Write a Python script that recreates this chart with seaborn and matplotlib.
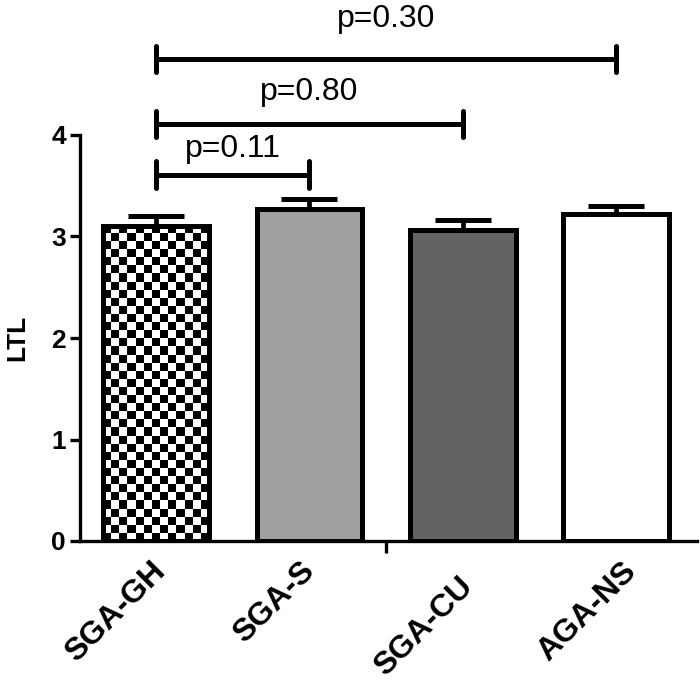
import numpy as np
import pandas as pd
import matplotlib
matplotlib.use("Agg")
import matplotlib.pyplot as plt
import matplotlib.transforms as mtransforms
import seaborn as sns

# ---- data ----
groups = ["SGA-GH", "SGA-S", "SGA-CU", "AGA-NS"]
ltl_mean = [3.10, 3.27, 3.06, 3.22]
ltl_sem = [0.10, 0.10, 0.10, 0.08]
bar_colors = ["white", "#a09fa4", "#636363", "white"]
comparisons = [("SGA-GH", "SGA-S"), ("SGA-GH", "SGA-CU"), ("SGA-GH", "AGA-NS")]
p_labels = ["p=0.11", "p=0.80", "p=0.30"]
bracket_y = [3.61, 4.11, 4.75]
p_text_y = [3.78, 4.34, 5.06]
y_ticks = [0, 1, 2, 3, 4]

sns.set_theme(style="white")
plt.rcParams["font.family"] = ["Liberation Sans", "DejaVu Sans"]
plt.rcParams["text.color"] = "black"
plt.rcParams["xtick.color"] = "black"
plt.rcParams["ytick.color"] = "black"
plt.rcParams["axes.labelcolor"] = "black"

df = pd.DataFrame({"group": groups, "LTL": ltl_mean})

fig = plt.figure(figsize=(7.0, 6.81), dpi=100)
ax = fig.add_axes([80 / 700, 140 / 681, 617 / 700, 541 / 681])

sns.barplot(data=df, x="group", y="LTL", hue="group", palette=bar_colors,
            order=groups, hue_order=groups, width=0.69, legend=False,
            edgecolor="black", linewidth=3.6, errorbar=None, ax=ax, zorder=3,
            dodge=False)

# upward-only error bars
xpos = np.arange(len(groups))
ax.errorbar(xpos, ltl_mean, yerr=[np.zeros(len(groups)), ltl_sem], fmt="none",
            ecolor="black", elinewidth=3.4, capsize=20, capthick=3.6, zorder=2)

ax.set_xlim(-0.495, 3.525)
ax.set_ylim(0, 541 / 101.5)

# checkerboard fill for first bar
fig.canvas.draw()
patch = ax.patches[0]
patch.set_facecolor("none")
bx0, by0 = patch.get_x(), patch.get_y()
bw, bh = patch.get_width(), patch.get_height()
p0 = ax.transData.transform((bx0, by0))
p1 = ax.transData.transform((bx0 + bw, by0 + bh))
nx = max(1, int(round(abs(p1[0] - p0[0]) / 8.1)))
sq_w = bw / nx
sq_h = 8.1 / 101.5
ny = int(np.ceil(bh / sq_h)) + 1
checker = (np.indices((ny, nx)).sum(axis=0) % 2).astype(float)
im = ax.imshow(checker, cmap="gray", interpolation="nearest", origin="lower",
               extent=(bx0, bx0 + nx * sq_w, by0, by0 + ny * sq_h),
               aspect="auto", zorder=2.5)
im.set_clip_path(patch)
ax.set_xlim(-0.495, 3.525)
ax.set_ylim(0, 541 / 101.5)

# significance brackets
tick_h = 0.13
for (g1, g2), lab, by, ty in zip(comparisons, p_labels, bracket_y, p_text_y):
    x1, x2 = groups.index(g1), groups.index(g2)
    ax.plot([x1, x2], [by, by], color="black", lw=3.6, solid_capstyle="butt",
            zorder=4, clip_on=False)
    for xx in (x1, x2):
        ax.plot([xx, xx], [by - tick_h, by + tick_h], color="black", lw=3.6,
                solid_capstyle="round", zorder=4, clip_on=False)
    ax.text((x1 + x2) / 2, ty, lab, ha="center", va="baseline", fontsize=23,
            color="black")

# spines / ticks
for s in ["top", "right"]:
    ax.spines[s].set_visible(False)
ax.spines["left"].set_bounds(0, 4)
ax.spines["left"].set_linewidth(2.4)
ax.spines["bottom"].set_linewidth(2.4)
ax.spines["left"].set_color("black")
ax.spines["bottom"].set_color("black")

ax.set_yticks(y_ticks)
ax.set_yticklabels([str(t) for t in y_ticks], fontweight="bold", fontsize=19,
                   color="black")
ax.tick_params(axis="y", length=7, width=2.4, pad=3, color="black", left=True)

ax.set_xticks(xpos)
ax.set_xticklabels(groups, fontweight="bold", fontsize=23, rotation=45,
                   ha="right", va="top", rotation_mode="anchor", color="black")
ax.tick_params(axis="x", which="major", length=0, pad=11)
ax.set_xticks([1.5], minor=True)
ax.tick_params(axis="x", which="minor", length=8.6, width=2.4, color="black",
               bottom=True)
label_shift_px = {"SGA-GH": (-22, 0), "SGA-S": (-26, 0),
                  "SGA-CU": (-21, -15), "AGA-NS": (-11, 0)}
for i, lbl in enumerate(ax.get_xticklabels()):
    dx, dy = label_shift_px[groups[i]]
    offset = mtransforms.ScaledTranslation(0.16 + dx / 100, dy / 100,
                                           fig.dpi_scale_trans)
    lbl.set_transform(lbl.get_transform() + offset)

ax.set_xlabel("")
ax.set_ylabel("LTL", fontweight="bold", fontsize=19, color="black")
ax.yaxis.set_label_coords(-0.082, 2.0 / (541 / 101.5))
ax.grid(False)

fig.savefig("out.png", dpi=100)
